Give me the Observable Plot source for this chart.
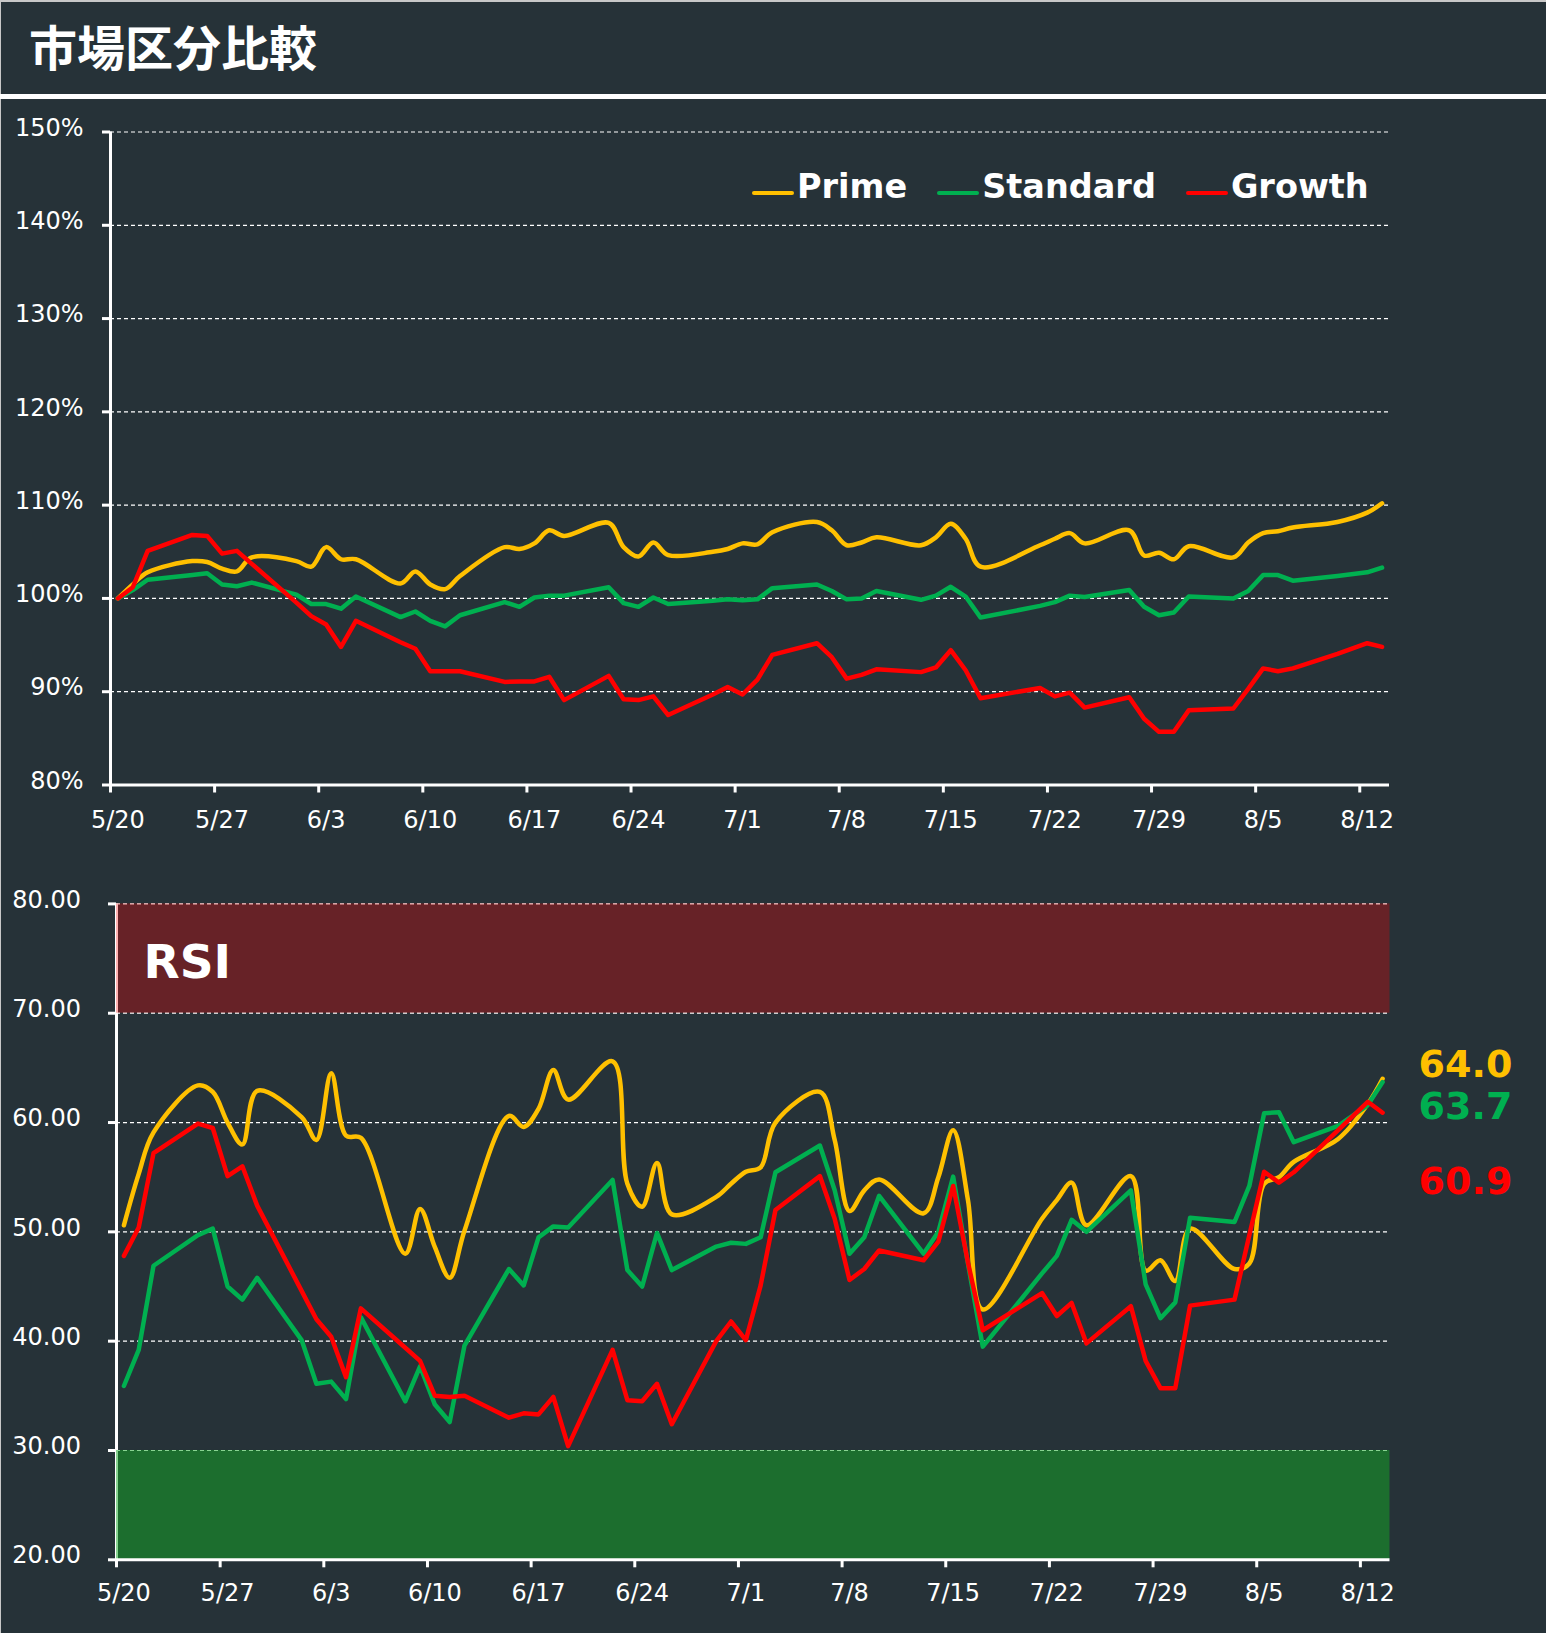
<!DOCTYPE html>
<html><head><meta charset="utf-8">
<script src="https://cdn.jsdelivr.net/npm/d3@7"></script>
<script src="https://cdn.jsdelivr.net/npm/@observablehq/plot@0.6"></script>
<style>
html,body{margin:0;padding:0;background:#263238;}
#wrap{position:relative;width:1546px;height:1633px;background:#263238;overflow:hidden;}
#edgeTop{position:absolute;left:0;top:0;width:1546px;height:2px;background:#c8c8c8;}
#edgeLeft{position:absolute;left:0;top:0;width:1px;height:1633px;background:#c8c8c8;}
#title{position:absolute;left:29px;top:21px;line-height:48px;font-family:"Noto Sans CJK JP",sans-serif;font-weight:700;font-size:48px;color:#fff;white-space:nowrap;}
#rule{position:absolute;left:0;top:94px;width:1546px;height:5px;background:#fff;}
#top{position:absolute;left:0;top:100px;}
#rsi{position:absolute;left:0;top:845px;}
#legend{position:absolute;left:752px;top:170px;display:flex;align-items:flex-start;font-family:"DejaVu Sans",sans-serif;font-weight:700;font-size:33.5px;line-height:33.5px;color:#fff;}
#legend .item{display:flex;align-items:flex-start;margin-right:30px;}
#legend .sw{width:42px;height:4px;border-radius:2px;margin-top:20.5px;margin-right:3px;}
</style>
</head><body>
<div id="wrap">
  <div id="edgeTop"></div><div id="edgeLeft"></div>
  <div id="title">市場区分比較</div>
  <div id="rule"></div>
  <div id="top"></div>
  <div id="rsi"></div>
  <div id="legend"></div>
</div>
<script>
// ---- data ----
const dates = ["2026-05-20","2026-05-21","2026-05-22","2026-05-25","2026-05-26","2026-05-27","2026-05-28","2026-05-29",
"2026-06-01","2026-06-02","2026-06-03","2026-06-04","2026-06-05","2026-06-08","2026-06-09","2026-06-10","2026-06-11","2026-06-12",
"2026-06-15","2026-06-16","2026-06-17","2026-06-18","2026-06-19","2026-06-22","2026-06-23","2026-06-24","2026-06-25","2026-06-26",
"2026-06-29","2026-06-30","2026-07-01","2026-07-02","2026-07-03","2026-07-06","2026-07-07","2026-07-08","2026-07-09","2026-07-10",
"2026-07-13","2026-07-14","2026-07-15","2026-07-16","2026-07-17","2026-07-21","2026-07-22","2026-07-23","2026-07-24",
"2026-07-27","2026-07-28","2026-07-29","2026-07-30","2026-07-31","2026-08-03","2026-08-04","2026-08-05","2026-08-06","2026-08-07",
"2026-08-10","2026-08-12","2026-08-13"];

const seriesNames = ["Prime","Standard","Growth"];
const seriesColors = ["#FFC000","#00B050","#FF0000"];

const primeIdx = [100,101.5,102.8, 104.0,103.9,103.2,102.9,104.4, 104.0,103.4,105.5,104.2,104.2, 101.6,102.9,101.5,101.0,102.4,
 105.5,105.3,105.9,107.3,106.7, 108.1,105.5,104.5,106.0,104.65, 105.0,105.3,105.9,105.8,107.1, 108.2,107.3,105.7,106.0,106.55,
 105.7,106.55,108.0,106.4,103.4, 105.7,106.4,107.0,105.9, 107.3,104.6,104.9,104.2,105.6, 104.4,106.0,107.0,107.2,107.6, 108.2,109.2,110.2];
const standardIdx = [100,100.9,102.0, 102.5,102.7,101.5,101.3,101.7, 100.4,99.4,99.4,98.9,100.2, 98.0,98.6,97.6,97.0,98.2,
 99.6,99.1,100.1,100.3,100.3, 101.2,99.5,99.1,100.1,99.4, 99.75,99.9,99.8,99.9,101.1, 101.5,100.8,99.9,100.0,100.8,
 99.85,100.3,101.25,100.2,97.95, 99.2,99.6,100.3,100.15, 100.9,99.1,98.2,98.5,100.2, 100.0,100.8,102.5,102.5,101.9, 102.4,102.8,103.3];
const growthIdx = [100,101.2,105.1, 106.8,106.7,104.8,105.1,103.7, 99.55,98.1,97.2,94.8,97.6, 95.3,94.6,92.2,92.2,92.2,
 91.05,91.1,91.1,91.6,89.1, 91.7,89.2,89.1,89.5,87.5, 89.7,90.5,89.7,91.3,93.95, 95.2,93.7,91.4,91.8,92.4,
 92.1,92.6,94.45,92.3,89.3, 90.4,89.5,89.9,88.3, 89.4,87.1,85.7,85.7,88.0, 88.2,90.3,92.5,92.2,92.5, 94.05,95.2,94.8];

const primeRsi = [50.6,55.3,59.1, 63.4,62.8,60.0,58.0,62.9, 60.5,58.4,64.5,58.8,58.6, 48.0,52.1,48.6,45.8,50.1,
 60.6,59.6,61.25,64.8,62.1, 65.6,54.4,52.3,56.3,51.6, 53.2,54.4,55.5,55.9,60.0, 62.8,58.4,51.9,53.8,54.8,
 51.7,55.0,59.3,52.9,42.9, 51.2,52.9,54.5,50.6, 55.1,46.45,47.4,45.5,50.3, 46.6,47.1,54.4,55.0,56.4, 58.5,61.7,64.0];
const standardRsi = [35.9,39.2,46.9, 49.7,50.3,45.0,43.8,45.8, 40.1,36.1,36.3,34.7,42.2, 34.5,37.7,34.2,32.6,39.6,
 46.6,45.1,49.5,50.5,50.4, 54.75,46.5,45.0,49.9,46.5, 48.65,49.0,48.9,49.5,55.45, 57.9,53.8,48.0,49.5,53.3,
 48.0,50.0,55.05,47.1,39.5, 46.2,47.8,51.1,50.0, 53.8,45.2,42.1,43.55,51.3, 50.9,54.2,60.85,60.95,58.2, 59.7,61.6,63.7];
const growthRsi = [47.8,50.4,57.2, 59.9,59.5,55.1,56.0,52.4, 44.6,42.0,40.4,36.7,43.0, 39.4,38.2,35.0,34.9,35.0,
 33.0,33.4,33.3,34.9,30.4, 39.2,34.6,34.5,36.1,32.4, 40.0,41.8,40.1,45.1,52.0, 55.1,51.2,45.6,46.6,48.3,
 47.4,49.1,54.2,47.2,41.0, 44.4,42.3,43.5,39.8, 43.2,38.2,35.7,35.7,43.25, 43.8,49.7,55.5,54.5,55.45, 59.3,61.9,60.9];

const idxTicks = [80,90,100,110,120,130,140,150];
const rsiTicks = [20,30,40,50,60,70,80];
const rsiZones = [{lo:70, hi:80, fill:"#FF0000", op:0.3},{lo:20, hi:30, fill:"#12AA24", op:0.5}];
const weekCount = 13;

// ---- build tables ----
const parse = d3.utcParse("%Y-%m-%d");
const D = dates.map(parse);
const DAY = 864e5;
const xDomain = [new Date(+D[0] - DAY/2), new Date(+D[D.length-1] + DAY/2)];
const labelDates = d3.range(weekCount).map(i => d3.utcDay.offset(D[0], 7*i));
const tickDates = labelDates.map(d => new Date(+d - DAY/2));
const fmt = d3.utcFormat("%-m/%-d");

function table(arrs){
  const rows = [];
  arrs.forEach((a, s) => a.forEach((v, i) => rows.push({date: D[i], value: v, series: seriesNames[s]})));
  return rows;
}
const idxRows = table([primeIdx, standardIdx, growthIdx]);
const rsiRows = table([primeRsi, standardRsi, growthRsi]);

function lineMarks(rows){
  return seriesNames.map((name, s) => Plot.line(rows.filter(r => r.series === name), {
    x: "date", y: "value", stroke: seriesColors[s], strokeWidth: 4.5,
    curve: s === 0 ? "catmull-rom" : "linear", strokeLinejoin: "round", strokeLinecap: "round"
  }));
}

const baseStyle = {background: "transparent", color: "#fff", fontFamily: "DejaVu Sans, sans-serif", fontSize: "24px", overflow: "visible"};
const grid = {stroke: "#fff", strokeOpacity: 1, strokeWidth: 1.2, strokeDasharray: "4,3"};

function yAxisMarks(ticks, format, pad){
  return [
    Plot.axisY(ticks, {tickFormat: () => "", tickSize: 8, stroke: "#fff", strokeWidth: 3, label: null}),
    Plot.axisY(ticks, {tickFormat: format, tickSize: 0, tickPadding: pad, dy: -4, fill: "#fff", fontSize: 24, label: null})
  ];
}
function xAxisMarks(pad){
  return [
    Plot.axisX(tickDates, {tickSize: 8, tickFormat: () => "", stroke: "#fff", strokeWidth: 3, label: null}),
    Plot.axisX(labelDates, {tickSize: 0, tickPadding: pad, tickFormat: fmt, fill: "#fff", fontSize: 24, label: null})
  ];
}

// ---- top chart ----
const topPlot = Plot.plot({
  width: 1546, height: 745,
  marginLeft: 110, marginRight: 157, marginTop: 31.5, marginBottom: 60.5,
  style: baseStyle,
  x: {type: "utc", domain: xDomain, label: null},
  y: {domain: [idxTicks[0], idxTicks[idxTicks.length-1]], label: null},
  marks: [
    Plot.gridY(idxTicks.slice(1), grid),
    ...yAxisMarks(idxTicks, d => d + "%", 27),
    ...xAxisMarks(26),
    Plot.ruleX([xDomain[0]], {stroke: "#fff", strokeWidth: 3}),
    Plot.ruleY([idxTicks[0]], {stroke: "#fff", strokeWidth: 3}),
    ...lineMarks(idxRows)
  ]
});
document.getElementById("top").appendChild(topPlot);

// ---- RSI chart ----
const lastRows = seriesNames.map(name => rsiRows.filter(r => r.series === name).slice(-1)[0]);
const labelDy = [-2, 37, 81];
const rsiPlot = Plot.plot({
  width: 1546, height: 788,
  marginLeft: 116, marginRight: 156.5, marginTop: 58.4, marginBottom: 73.7,
  style: baseStyle,
  x: {type: "utc", domain: xDomain, label: null},
  y: {domain: [rsiTicks[0], rsiTicks[rsiTicks.length-1]], label: null},
  marks: [
    Plot.gridY(rsiTicks.slice(1), grid),
    ...yAxisMarks(rsiTicks, d => d.toFixed(2), 35.5),
    Plot.ruleX([xDomain[0]], {stroke: "#fff", strokeWidth: 3}),
    Plot.rect(rsiZones, {x1: () => xDomain[0], x2: () => xDomain[1], y1: "lo", y2: "hi", fill: d => d.fill, fillOpacity: d => d.op}),
    Plot.ruleY([rsiTicks[0]], {stroke: "#fff", strokeWidth: 3}),
    ...xAxisMarks(24),
    ...lineMarks(rsiRows),
    Plot.text(["RSI"], {frameAnchor: "top-left", text: d => d, dx: 27, dy: 73.6, lineAnchor: "bottom", textAnchor: "start",
      fill: "#fff", fontSize: 47, fontWeight: "bold"}),
    ...lastRows.map((r, s) => Plot.text([r], {x: "date", y: "value", text: d => d.value.toFixed(1), textAnchor: "start",
      lineAnchor: "bottom", dx: 36, dy: labelDy[s], fill: seriesColors[s], fontSize: 38, fontWeight: "bold"}))
  ]
});
document.getElementById("rsi").appendChild(rsiPlot);

// ---- legend ----
const legend = document.getElementById("legend");
seriesNames.forEach((name, s) => {
  const item = document.createElement("div");
  item.className = "item";
  const sw = document.createElement("span");
  sw.className = "sw";
  sw.style.background = seriesColors[s];
  const t = document.createElement("span");
  t.textContent = name;
  item.appendChild(sw); item.appendChild(t);
  legend.appendChild(item);
});
</script>
</body></html>
